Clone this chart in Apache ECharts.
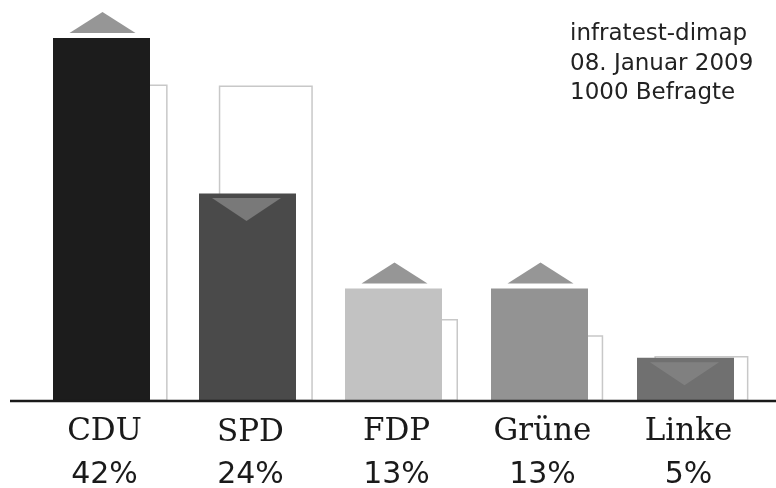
<!DOCTYPE html>
<html>
<head>
<meta charset="utf-8">
<script src="https://cdn.jsdelivr.net/npm/echarts@6/dist/echarts.min.js"></script>
<style>
  html, body { margin: 0; padding: 0; background: #fff; }
  #chart { width: 776px; height: 488px; }
</style>
</head>
<body>
<div id="chart"></div>
<script>
  // Umfrage-Werte
  const parties = ['CDU', 'SPD', 'FDP', 'Grüne', 'Linke'];
  const current = [42, 24, 13, 13, 5];
  const previous = [36.6, 36.5, 9.5, 7.6, 5.2];
  const sourceLines = ['infratest-dimap', '08. Januar 2009', '1000 Befragte'];

  const barColors = ['#1c1c1c', '#4a4a4a', '#c2c2c2', '#939393', '#707070'];

  // Pfeile: hoch wenn gestiegen, runter wenn gefallen
  const upData = current.map((v, i) => v > previous[i] ? v : '-');
  const downData = current.map((v, i) => v < previous[i] ? v : '-');

  const chart = echarts.init(document.getElementById('chart'));

  const nameStyle = { fontFamily: 'DejaVu Serif', fontSize: 31, lineHeight: 40, color: '#1a1a1a' };
  const pctStyle = { fontFamily: 'DejaVu Sans', fontSize: 30, lineHeight: 47, color: '#1a1a1a' };

  chart.setOption({
    animation: false,
    backgroundColor: '#fff',
    title: {
      text: sourceLines.join('\n'),
      left: 570,
      top: 19.5,
      padding: 0,
      textStyle: {
        fontFamily: 'DejaVu Sans',
        fontSize: 23,
        fontWeight: 'normal',
        lineHeight: 29.5,
        color: '#222'
      }
    },
    grid: [
      { left: 28.5, width: 730, top: 12, bottom: 87, outerBoundsMode: 'none', containLabel: false },
      { left: 48, width: 726, top: 12, bottom: 87, outerBoundsMode: 'none', containLabel: false }
    ],
    xAxis: [{
      gridIndex: 0,
      type: 'category',
      data: parties,
      axisLine: { show: false },
      axisTick: { show: false },
      axisLabel: {
        margin: 11,
        interval: 0,
        formatter: function (value, index) {
          let s = index === 1 ? 's' : ''
          return '{n' + s + '|' + value + '}\n{p' + s + '|' + current[index] + '%}'
        },
        rich: {
          n: Object.assign({}, nameStyle, { padding: [0, 0, 0, 6] }),
          p: Object.assign({}, pctStyle, { padding: [0, 0, 0, 6] }),
          ns: Object.assign({}, nameStyle, { padding: [2.5, 0, 0, 6] }),
          ps: Object.assign({}, pctStyle, { padding: [0, 0, 0, 6] })
        }
      }
    }, {
      gridIndex: 1,
      type: 'category',
      data: parties,
      show: false
    }],
    yAxis: [
      { gridIndex: 0, type: 'value', min: 0, max: 45, show: false },
      { gridIndex: 1, type: 'value', min: 0, max: 45, show: false }
    ],
    series: [{
      name: 'vorher',
      type: 'bar',
      xAxisIndex: 1,
      yAxisIndex: 1,
      barWidth: 94,
      z: 1,
      itemStyle: { color: '#fff', borderColor: '#c8c8c8', borderWidth: 1.5 },
      data: previous
    }, {
      name: 'aktuell',
      type: 'bar',
      barWidth: 97,
      z: 2,
      itemStyle: {
        color: function (p) { return barColors[p.dataIndex] }
      },
      data: current
    }, {
      name: 'hoch',
      type: 'scatter',
      symbol: 'triangle',
      symbolSize: [66, 21],
      symbolOffset: [1, -15.5],
      z: 3,
      itemStyle: { color: '#7c7c7c' },
      data: upData
    }, {
      name: 'runter',
      type: 'scatter',
      symbol: 'triangle',
      symbolRotate: 180,
      symbolSize: [69, 23],
      symbolOffset: [-1, 16],
      z: 3,
      itemStyle: { color: '#848484' },
      data: downData
    }],
    graphic: [{
      type: 'line',
      shape: { x1: 10, y1: 401, x2: 776, y2: 401 },
      style: { stroke: '#1a1a1a', lineWidth: 2.5 },
      z: 10
    }]
  });
</script>
</body>
</html>
